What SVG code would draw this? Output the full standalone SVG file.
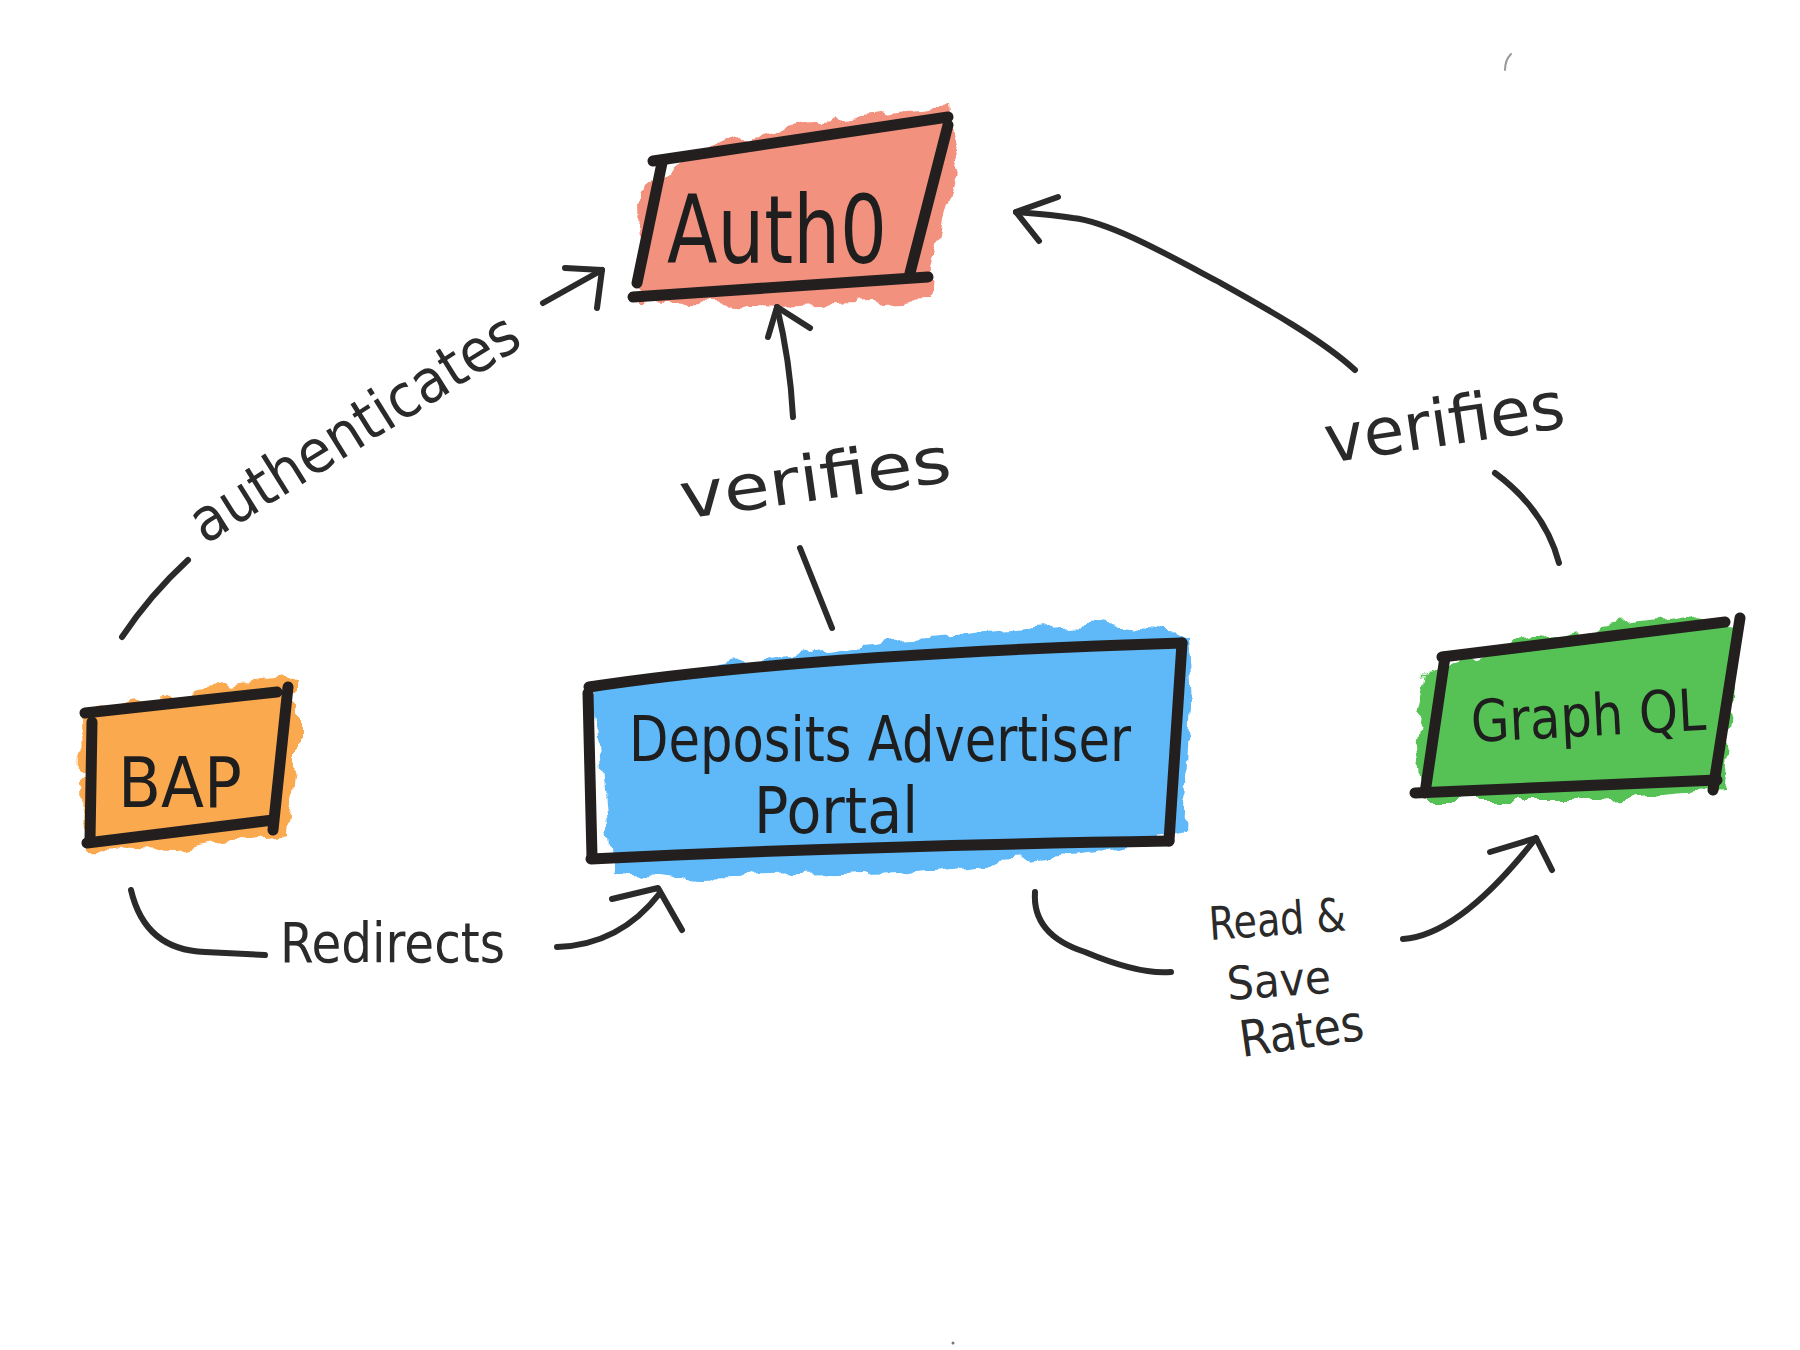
<svg xmlns="http://www.w3.org/2000/svg" width="1800" height="1350" viewBox="0 0 1800 1350">
<style>
  .edge{fill:none;stroke:#231f1f;stroke-width:11;stroke-linecap:round;stroke-linejoin:round}
  .conn{fill:none;stroke:#2a2a2a;stroke-width:6;stroke-linecap:round;stroke-linejoin:round}
  .lbl{font-family:"DejaVu Sans","Liberation Sans",sans-serif;fill:#1e1e1e}
  .clbl{font-family:"DejaVu Sans","Liberation Sans",sans-serif;fill:#2a2a2a}
  .blob{filter:url(#rough)}
</style>
<defs>
  <filter id="rough" x="-10%" y="-15%" width="120%" height="130%">
    <feTurbulence type="fractalNoise" baseFrequency="0.035" numOctaves="3" seed="4"/>
    <feDisplacementMap in="SourceGraphic" scale="22" xChannelSelector="R" yChannelSelector="G"/>
  </filter>
</defs>
<rect width="1800" height="1350" fill="#ffffff"/>

<g id="node-auth0">
  <path class="blob" fill="#F3917F" d="M640,195 L700,150 L800,125 L948,106 L958,170 L935,255 L925,298 L780,306 L642,300 Z"/>
  <path class="edge" d="M653,161 L948,117"/>
  <path class="edge" d="M948,125 L910,273"/>
  <path class="edge" d="M633,297 L928,277"/>
  <path class="edge" d="M662,163 L637,283"/>
  <text class="lbl" x="667" y="263" font-size="95" textLength="220" lengthAdjust="spacingAndGlyphs">Auth0</text>
</g>

<g id="node-bap">
  <path class="blob" fill="#FBA94F" d="M82,712 L200,690 L298,674 L298,760 L287,832 L180,850 L84,848 Z"/>
  <path class="edge" d="M85,713 L277,692"/>
  <path class="edge" d="M288,687 L273,830"/>
  <path class="edge" d="M87,843 L273,820"/>
  <path class="edge" d="M92,722 L90,840"/>
  <text class="lbl" x="118" y="807" font-size="70" textLength="124" lengthAdjust="spacingAndGlyphs">BAP</text>
</g>

<g id="node-portal">
  <path class="blob" fill="#5FB8F8" d="M594,690 L700,668 L900,640 L1100,624 L1186,633 L1190,700 L1184,830 L1100,852 L900,872 L700,878 L610,870 Z"/>
  <path class="edge" d="M589,687 Q800,655 1182,643"/>
  <path class="edge" d="M1182,643 L1169,841"/>
  <path class="edge" d="M591,859 Q850,846 1169,841"/>
  <path class="edge" d="M588,693 L592,857"/>
  <text class="lbl" x="629" y="761" font-size="62" textLength="502" lengthAdjust="spacingAndGlyphs">Deposits Advertiser</text>
  <text class="lbl" x="754" y="833" font-size="64" textLength="164" lengthAdjust="spacingAndGlyphs">Portal</text>
</g>

<g id="node-graphql">
  <path class="blob" fill="#57C255" d="M1425,672 L1550,636 L1700,615 L1738,625 L1730,720 L1722,790 L1600,800 L1420,800 L1412,750 Z"/>
  <path class="edge" d="M1442,657 L1725,622"/>
  <path class="edge" d="M1740,618 L1713,790"/>
  <path class="edge" d="M1415,793 L1717,780"/>
  <path class="edge" d="M1445,657 L1425,793"/>
  <text class="lbl" x="1472" y="742" font-size="58" textLength="235" lengthAdjust="spacingAndGlyphs" transform="rotate(-3 1472 742)">Graph QL</text>
</g>

<g id="connectors">
  <!-- BAP authenticates Auth0 -->
  <path class="conn" d="M122,637 Q150,595 188,560"/>
  <text class="clbl" x="205" y="545" font-size="60" textLength="377" lengthAdjust="spacingAndGlyphs" transform="rotate(-32 205 545)">authenticates</text>
  <path class="conn" d="M543,303 Q575,285 602,270"/>
  <path class="conn" d="M565,268 L602,270 L597,308"/>

  <!-- Portal verifies Auth0 -->
  <path class="conn" d="M800,548 L832,628"/>
  <text class="clbl" x="683" y="519" font-size="64" textLength="273" lengthAdjust="spacingAndGlyphs" transform="rotate(-8 683 519)">verifies</text>
  <path class="conn" d="M793,417 Q790,360 777,307"/>
  <path class="conn" d="M768,337 L777,307 L810,328"/>

  <!-- GraphQL verifies Auth0 -->
  <path class="conn" d="M1559,563 Q1545,510 1495,473"/>
  <text class="clbl" x="1328" y="463" font-size="66" textLength="242" lengthAdjust="spacingAndGlyphs" transform="rotate(-8.5 1328 463)">verifies</text>
  <path class="conn" d="M1355,370 C1320,338 1260,305 1217,281 C1170,256 1110,222 1073,218 C1050,214 1030,213 1016,212"/>
  <path class="conn" d="M1058,197 L1016,212 L1039,241"/>

  <!-- BAP redirects Portal -->
  <path class="conn" d="M131,890 Q145,950 205,952 L265,955"/>
  <text class="clbl" x="280" y="962" font-size="56" textLength="225" lengthAdjust="spacingAndGlyphs">Redirects</text>
  <path class="conn" d="M557,947 Q620,945 660,893"/>
  <path class="conn" d="M612,899 L658,888 L682,930"/>

  <!-- Portal read & save rates GraphQL -->
  <path class="conn" d="M1035,892 Q1032,935 1085,952 Q1140,975 1171,972"/>
  <text class="clbl" x="1210" y="940" font-size="46" textLength="137" lengthAdjust="spacingAndGlyphs" transform="rotate(-4 1210 940)">Read &amp;</text>
  <text class="clbl" x="1228" y="1000" font-size="46" textLength="104" lengthAdjust="spacingAndGlyphs" transform="rotate(-4 1228 1000)">Save</text>
  <text class="clbl" x="1242" y="1057" font-size="50" textLength="125" lengthAdjust="spacingAndGlyphs" transform="rotate(-8 1242 1057)">Rates</text>
  <path class="conn" d="M1403,939 Q1460,935 1536,838"/>
  <path class="conn" d="M1490,852 L1536,838 L1552,870"/>
</g>

<path d="M1505,70 Q1505,60 1511,54" fill="none" stroke="#9a9a9a" stroke-width="2" stroke-linecap="round"/>
<circle cx="953" cy="1343" r="1.5" fill="#777"/>
</svg>
